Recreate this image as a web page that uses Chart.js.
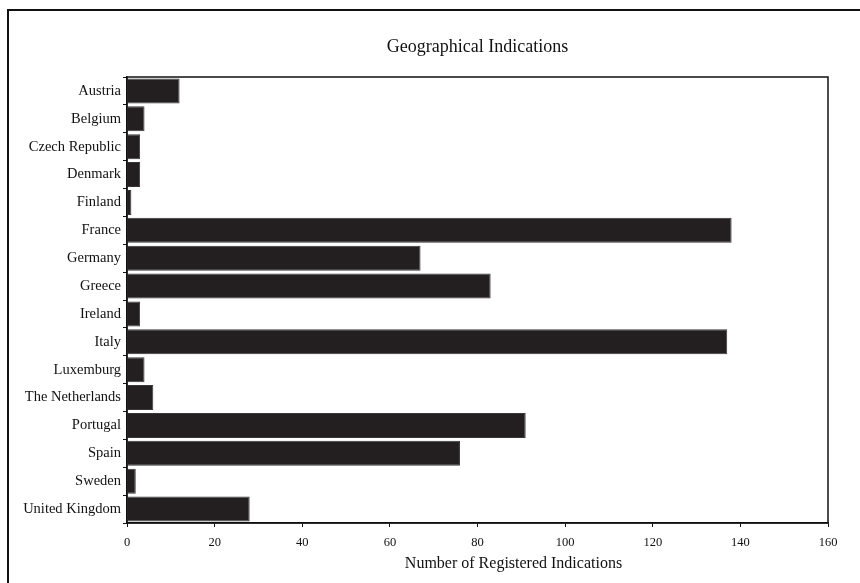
<!DOCTYPE html>
<html>
<head>
<meta charset="utf-8">
<title>Geographical Indications</title>
<script src="https://cdn.jsdelivr.net/npm/chart.js@4/dist/chart.umd.min.js"></script>
<style>
  html, body { margin: 0; padding: 0; background: #fff; }
  #wrap { width: 860px; height: 583px; }
</style>
</head>
<body>
<div id="wrap"><canvas id="gi-chart" width="860" height="583"></canvas></div>
<script>
const countries = ['Austria', 'Belgium', 'Czech Republic', 'Denmark', 'Finland', 'France', 'Germany',
  'Greece', 'Ireland', 'Italy', 'Luxemburg', 'The Netherlands', 'Portugal', 'Spain', 'Sweden', 'United Kingdom'];
const registered = [12, 4, 3, 3, 1, 138, 67, 83, 3, 137, 4, 6, 91, 76, 2, 28];
const xTicks = [0, 20, 40, 60, 80, 100, 120, 140, 160];
const chartTitle = 'Geographical Indications';
const xTitle = 'Number of Registered Indications';

const serif = '"Liberation Serif", "Times New Roman", serif';

// page frame, plot box and the two titles (placed like the original, off the canvas centre)
const framePlugin = {
  id: 'frame',
  beforeDraw(chart) {
    const c = chart.ctx;
    c.save();
    c.strokeStyle = '#111';
    c.lineWidth = 2;
    c.beginPath();
    c.moveTo(8, 583);
    c.lineTo(8, 10);
    c.lineTo(860, 10);
    c.stroke();
    c.restore();
  },
  afterDraw(chart) {
    const a = chart.chartArea;
    const c = chart.ctx;
    c.save();
    c.strokeStyle = '#111';
    c.lineWidth = 1.5;
    c.strokeRect(a.left, a.top, a.right - a.left, a.bottom - a.top);

    c.fillStyle = '#111';
    c.textAlign = 'center';
    c.textBaseline = 'middle';
    c.font = '18px ' + serif;
    c.fillText(chartTitle, (a.left + a.right) / 2, 47);
    c.font = '16px ' + serif;
    c.fillText(xTitle, (a.left + a.right) / 2 + 36, 564);
    c.restore();
  }
};

new Chart(document.getElementById('gi-chart'), {
  type: 'bar',
  data: {
    labels: countries,
    datasets: [{
      label: xTitle,
      data: registered,
      backgroundColor: '#231f20',
      borderColor: '#3a3637',
      borderWidth: 1,
      barPercentage: 0.9,
      categoryPercentage: 1
    }]
  },
  options: {
    indexAxis: 'y',
    responsive: false,
    animation: false,
    layout: { padding: { top: 77, right: 32, bottom: 0, left: 0 } },
    plugins: {
      legend: { display: false },
      tooltip: { enabled: false },
      title: { display: false }
    },
    scales: {
      x: {
        min: 0,
        max: 160,
        afterBuildTicks(scale) { scale.ticks = xTicks.map(v => ({ value: v })); },
        afterFit(scale) { scale.height = 60; },
        grid: { drawOnChartArea: false, tickLength: 4, color: '#111' },
        border: { color: '#111', width: 1.5 },
        ticks: { color: '#111', padding: 8, maxRotation: 0, font: { family: serif, size: 12.5 } }
      },
      y: {
        afterFit(scale) { scale.width = 127; },
        grid: { drawOnChartArea: false, offset: true, tickLength: 4, color: '#111' },
        border: { color: '#111', width: 1.5 },
        ticks: { color: '#111', padding: 2, autoSkip: false, font: { family: serif, size: 14.5 } }
      }
    }
  },
  plugins: [framePlugin]
});
</script>
</body>
</html>
